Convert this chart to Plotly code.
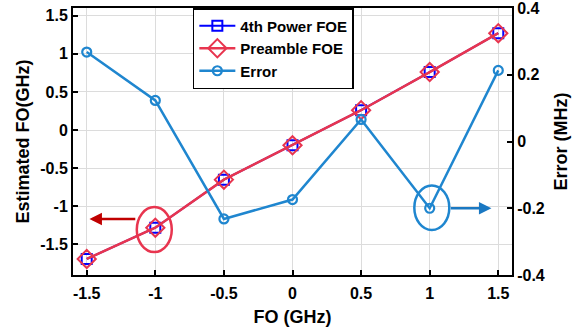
import plotly.graph_objects as go

fo = [-1.5, -1, -0.5, 0, 0.5, 1, 1.5]
est_4th = [-1.69, -1.28, -0.65, -0.20, 0.26, 0.76, 1.27]
est_pre = [-1.69, -1.28, -0.65, -0.20, 0.26, 0.76, 1.27]
error_mhz = [0.268, 0.123, -0.232, -0.174, 0.066, -0.200, 0.213]

x_ticks = [-1.5, -1, -0.5, 0, 0.5, 1, 1.5]
x_ticktext = ["-1.5", "-1", "-0.5", "0", "0.5", "1", "1.5"]
yl_ticks = [-1.5, -1, -0.5, 0, 0.5, 1, 1.5]
yl_ticktext = ["-1.5", "-1", "-0.5", "0", "0.5", "1", "1.5"]
yr_ticks = [-0.4, -0.2, 0, 0.2, 0.4]
yr_ticktext = ["-0.4", "-0.2", "0", "0.2", "0.4"]

BLUE = "#0000ff"
RED = "#e8354f"
ERR = "#1f86cf"
FONT = "Liberation Sans"

fig = go.Figure()
fig.add_trace(go.Scatter(x=fo, y=est_4th, name="4th Power FOE", mode="lines+markers",
                         line=dict(color=BLUE, width=2),
                         marker=dict(symbol="square-open", size=10, color=BLUE, line=dict(width=2, color=BLUE))))
fig.add_trace(go.Scatter(x=fo, y=est_pre, name="Preamble FOE", mode="lines+markers",
                         line=dict(color=RED, width=2.5),
                         marker=dict(symbol="diamond-open", size=14, color=RED, line=dict(width=2, color=RED))))
fig.add_trace(go.Scatter(x=fo, y=error_mhz, name="Error", mode="lines+markers", yaxis="y2",
                         line=dict(color=ERR, width=2.5),
                         marker=dict(symbol="circle-open", size=9, color=ERR, line=dict(width=2.2, color=ERR))))

axis_font = dict(family=FONT, size=16, color="black", weight="bold")
title_font = dict(family=FONT, size=18, color="black", weight="bold")

fig.update_layout(
    width=576, height=333,
    margin=dict(l=73, r=64, t=8, b=58, autoexpand=False),
    paper_bgcolor="white", plot_bgcolor="white",
    showlegend=True,
    legend=dict(x=0.273, y=1, xanchor="left", yanchor="top",
                bgcolor="white", bordercolor="black", borderwidth=1.5,
                font=dict(family=FONT, size=15, color="black", weight="bold"),
                tracegroupgap=0, itemwidth=36),
    xaxis=dict(range=[-1.6, 1.6], tickvals=x_ticks, ticktext=x_ticktext,
               showgrid=True, gridcolor="#dcdcdc", gridwidth=1,
               showline=True, linecolor="black", linewidth=2, mirror=True,
               ticks="inside", ticklen=5, tickwidth=1.5, tickcolor="black",
               tickfont=axis_font, zeroline=False, ticklabelstandoff=3,
               title=dict(text="FO (GHz)", font=title_font, standoff=9)),
    yaxis=dict(range=[-1.9, 1.6], tickvals=yl_ticks, ticktext=yl_ticktext,
               showgrid=True, gridcolor="#dcdcdc", gridwidth=1,
               showline=True, linecolor="black", linewidth=2,
               ticks="inside", ticklen=5, tickwidth=1.5, tickcolor="black",
               tickfont=axis_font, zeroline=False, ticklabeloverflow="allow",
               title=dict(text="Estimated FO(GHz)", font=title_font, standoff=6)),
    yaxis2=dict(range=[-0.4, 0.4], tickvals=yr_ticks, ticktext=yr_ticktext,
                overlaying="y", side="right", showgrid=False,
                showline=True, linecolor="black", linewidth=2,
                ticks="inside", ticklen=5, tickwidth=1.5, tickcolor="black",
                tickfont=axis_font, zeroline=False, ticklabeloverflow="allow",
                title=dict(text="Error (MHz)", font=title_font, standoff=11)),
)

# Highlight ellipses
fig.add_shape(type="circle", xref="x", yref="y", x0=-1.135, x1=-0.88, y0=-1.60, y1=-1.01,
              line=dict(color=RED, width=2.5))
fig.add_shape(type="circle", xref="x", yref="y2", x0=0.888, x1=1.143, y0=-0.265, y1=-0.132,
              line=dict(color=ERR, width=2.5))

# Axis pointer arrows
fig.add_annotation(x=-1.48, y=-1.165, ax=-1.135, ay=-1.165, xref="x", yref="y",
                   axref="x", ayref="y", showarrow=True, arrowhead=2, arrowsize=1,
                   arrowwidth=2.5, arrowcolor="#c00000", text="")
fig.add_annotation(x=1.45, y=-0.2, ax=1.143, ay=-0.2, xref="x", yref="y2",
                   axref="x", ayref="y2", showarrow=True, arrowhead=2, arrowsize=1,
                   arrowwidth=2.5, arrowcolor="#1a78c2", text="")

fig.write_html("out.html", config={"displayModeBar": False},
               post_script="document.body.style.margin='0px';")
